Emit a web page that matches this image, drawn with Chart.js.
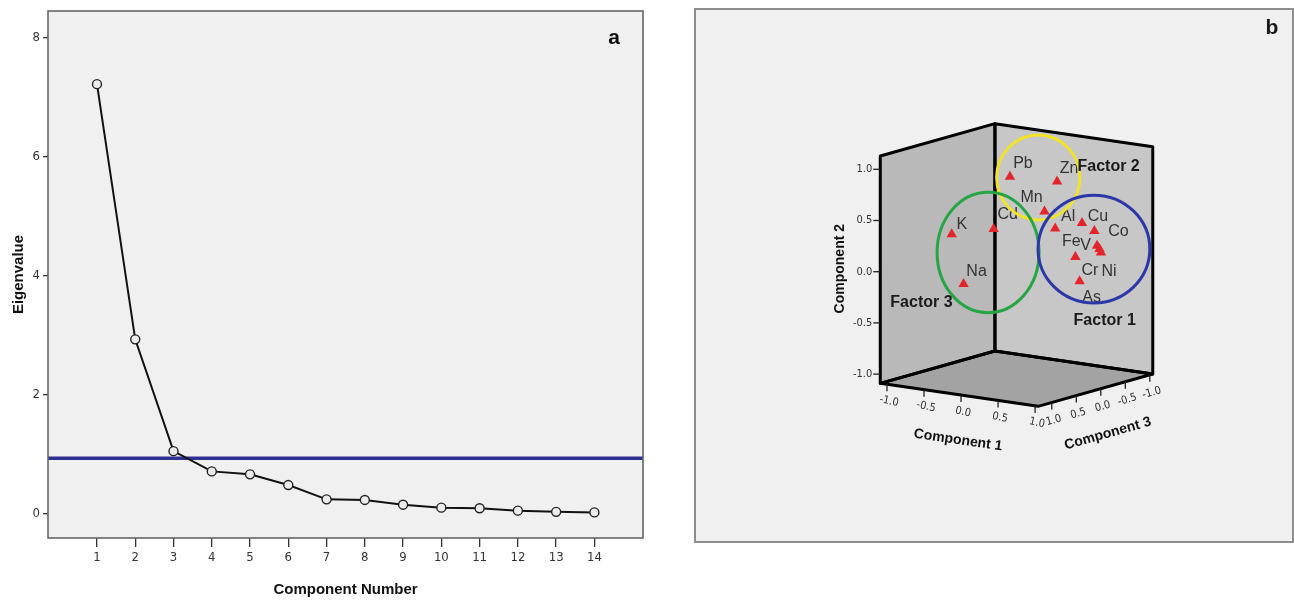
<!DOCTYPE html>
<html>
<head>
<meta charset="utf-8">
<script src="https://cdn.jsdelivr.net/npm/chart.js@4.4.1/dist/chart.umd.min.js"></script>
<style>
  body { margin: 0; width: 1294px; height: 600px; overflow: hidden; background: #fff; position: relative; }
  #scree { position: absolute; left: 0; top: 0; }
  #panelB { position: absolute; left: 694px; top: 8px; width: 600px; height: 535px; box-sizing: border-box;
            border: 2px solid #8e8e8e; background: #f1f0f1; }
  #loadings { position: absolute; left: 690px; top: 0; }
</style>
</head>
<body>
<canvas id="scree" width="680" height="600"></canvas>
<div id="panelB"></div>
<canvas id="loadings" width="604" height="600"></canvas>
<script>
// --- data: scree plot (a) ---
const components = [1, 2, 3, 4, 5, 6, 7, 8, 9, 10, 11, 12, 13, 14];
const eigenvalues = [7.22, 2.93, 1.05, 0.71, 0.66, 0.48, 0.24, 0.23, 0.15, 0.10, 0.09, 0.05, 0.03, 0.02];
const cutoff = 0.93;
const eigenTicks = [0, 2, 4, 6, 8];

// --- data: component plot in rotated space (b) ---
const elements = ['Pb', 'Zn', 'Mn', 'Cd', 'K', 'Na', 'Al', 'Cu', 'Co', 'V', 'Cr', 'Ni', 'Fe', 'As'];
const comp1 = [-0.12, 0.45, 0.28, -0.01, -0.41, -0.25, 0.49, 0.72, 0.92, 0.89, 0.89, 0.91, 0.73, 0.82];
const comp2 = [0.87, 0.87, 0.56, 0.44, 0.38, -0.09, 0.43, 0.48, 0.43, 0.27, 0.23, 0.20, 0.17, -0.05];
const comp3 = [0.10, 0.00, 0.00, 0.60, 0.85, 0.85, 0.10, -0.10, -0.05, -0.15, -0.20, -0.20, 0.05, 0.10];
const loadingTicks = [-1.0, -0.5, 0.0, 0.5, 1.0];

const FONT = '"Liberation Sans", Arial, sans-serif';
const NARROW = '"Liberation Sans Narrow", "DejaVu Sans Condensed", "Liberation Sans", sans-serif';

// ================= PANEL A =================
const X_MIN = -0.28, X_MAX = 15.27, Y_MIN = -0.41, Y_MAX = 8.45;

const screeFrame = {
  id: 'screeFrame',
  beforeDraw(chart) {
    const { ctx, chartArea: a } = chart;
    ctx.save();
    ctx.fillStyle = '#f0f0f0';
    ctx.fillRect(a.left, a.top, a.right - a.left, a.bottom - a.top);
    ctx.restore();
  },
  afterDraw(chart) {
    const { ctx, chartArea: a } = chart;
    ctx.save();
    ctx.strokeStyle = '#666';
    ctx.lineWidth = 1.6;
    ctx.strokeRect(a.left, a.top, a.right - a.left, a.bottom - a.top);
    ctx.fillStyle = '#111';
    ctx.font = 'bold 21px ' + FONT;
    ctx.textAlign = 'center';
    ctx.textBaseline = 'middle';
    ctx.fillText('a', a.right - 29, a.top + 27);
    ctx.restore();
  }
};

new Chart(document.getElementById('scree'), {
  type: 'line',
  data: {
    datasets: [
      {
        data: components.map((c, i) => ({ x: c, y: eigenvalues[i] })),
        borderColor: '#111', borderWidth: 2,
        pointRadius: 4.5, pointBorderWidth: 1.4,
        pointBorderColor: '#222', pointBackgroundColor: '#ececec',
        order: 0
      },
      {
        data: [{ x: X_MIN, y: cutoff }, { x: X_MAX, y: cutoff }],
        borderColor: '#2e3192', borderWidth: 3.5, pointRadius: 0,
        order: 1
      }
    ]
  },
  options: {
    responsive: false,
    animation: false,
    layout: { padding: { top: 11, right: 37, left: 0, bottom: 0 } },
    plugins: { legend: { display: false }, tooltip: { enabled: false } },
    scales: {
      x: {
        type: 'linear', min: X_MIN, max: X_MAX,
        afterFit: s => { s.height = 62; },
        afterBuildTicks: s => { s.ticks = components.map(v => ({ value: v })); },
        grid: { drawOnChartArea: false, color: '#333', tickLength: 9, lineWidth: 1.3 },
        border: { display: false },
        ticks: { color: '#333', font: { family: NARROW, size: 13 }, padding: 3, autoSkip: false, maxRotation: 0 },
        title: { display: true, text: 'Component Number', color: '#111',
                 font: { family: FONT, size: 15, weight: 'bold' }, padding: { top: 0, bottom: 1 } }
      },
      y: {
        type: 'linear', min: Y_MIN, max: Y_MAX,
        afterFit: s => { s.width = 48; },
        afterBuildTicks: s => { s.ticks = eigenTicks.map(v => ({ value: v })); },
        grid: { drawOnChartArea: false, color: '#333', tickLength: 5, lineWidth: 1.3 },
        border: { display: false },
        ticks: { color: '#333', font: { family: NARROW, size: 13 }, padding: 3 },
        title: { display: true, text: 'Eigenvalue', color: '#111',
                 font: { family: FONT, size: 15, weight: 'bold' }, padding: { top: 9.5, bottom: 0 } }
      }
    }
  },
  plugins: [screeFrame]
});

// ================= PANEL B =================
// pixels per unit loading along each component (x right, y down)
const E1 = [75.59, 11.03], E2 = [0, -104.5], E3 = [-50.0, 14.10];
const B1 = [-1.09, 1.04], B2 = [-1.09, 1.13], B3 = [-1.06, 1.28];   // box extent

function proj(c1, c2, c3) {
  return {
    x: E1[0] * c1 + E2[0] * c2 + E3[0] * c3,
    y: -(E1[1] * c1 + E2[1] * c2 + E3[1] * c3)
  };
}

// label placement around each marker, in px
const labelOffsets = {
  Pb: [13, -13], Zn: [12, -13], Mn: [-13, -13.5], Cd: [14, -14], K: [10, -10], Na: [13, -12],
  Al: [13, -12], Cu: [16, -6], Co: [24, 1], V: [-11.5, 0], Cr: [-9.5, 21.5], Ni: [8, 19.5],
  Fe: [-4, -15.5], As: [12, 16]
};

const circles = [
  { x: 14.8, y: 90.1, rx: 42.5, ry: 43.3, color: '#f0e32c' },
  { x: -36.4, y: 13.6, rx: 52, ry: 61.5, color: '#27a544' },
  { x: 71.6, y: 17.1, rx: 57, ry: 55, color: '#2c37a8' }
];
const factorLabels = [
  { text: 'Factor 2', x: 86.6, y: 101.6 },
  { text: 'Factor 3', x: -104.4, y: -37.9 },
  { text: 'Factor 1', x: 82.6, y: -56.4 }
];

function toPx(chart, c1, c2, c3) {
  const p = proj(c1, c2, c3);
  return [chart.scales.x.getPixelForValue(p.x), chart.scales.y.getPixelForValue(p.y)];
}

const box3d = {
  id: 'box3d',
  beforeDatasetsDraw(chart) {
    const ctx = chart.ctx;
    const P = (a, b, c) => toPx(chart, a, b, c);
    const faces = [
      { pts: [P(B1[0], B2[0], B3[0]), P(B1[1], B2[0], B3[0]), P(B1[1], B2[0], B3[1]), P(B1[0], B2[0], B3[1])], fill: '#a3a3a3' },
      { pts: [P(B1[0], B2[0], B3[0]), P(B1[0], B2[1], B3[0]), P(B1[0], B2[1], B3[1]), P(B1[0], B2[0], B3[1])], fill: '#b9b9b9' },
      { pts: [P(B1[0], B2[0], B3[0]), P(B1[1], B2[0], B3[0]), P(B1[1], B2[1], B3[0]), P(B1[0], B2[1], B3[0])], fill: '#c7c7c7' }
    ];
    ctx.save();
    faces.forEach(f => {
      ctx.beginPath();
      f.pts.forEach((p, i) => i ? ctx.lineTo(p[0], p[1]) : ctx.moveTo(p[0], p[1]));
      ctx.closePath();
      ctx.fillStyle = f.fill;
      ctx.fill();
    });
    ctx.strokeStyle = '#000';
    ctx.lineWidth = 3;
    ctx.lineJoin = 'round';
    faces.forEach(f => {
      ctx.beginPath();
      f.pts.forEach((p, i) => i ? ctx.lineTo(p[0], p[1]) : ctx.moveTo(p[0], p[1]));
      ctx.closePath();
      ctx.stroke();
    });

    // ticks
    const fmt = v => v.toFixed(1);
    ctx.lineWidth = 1.3;
    ctx.strokeStyle = '#222';
    ctx.fillStyle = '#333';
    ctx.font = '11px ' + NARROW;

    // component 2 (vertical, left edge)
    ctx.textAlign = 'right';
    ctx.textBaseline = 'middle';
    loadingTicks.forEach(t => {
      const [x, y] = P(B1[0], t, B3[1]);
      ctx.beginPath(); ctx.moveTo(x, y); ctx.lineTo(x - 7, y); ctx.stroke();
      ctx.fillText(fmt(t), x - 8, y);
    });

    const a1 = Math.atan2(E1[1], E1[0]);
    const a3 = Math.atan2(-E3[1], -E3[0]);
    ctx.textAlign = 'center';
    loadingTicks.forEach(t => {
      const [x, y] = P(t, B2[0], B3[1]);
      ctx.beginPath(); ctx.moveTo(x, y); ctx.lineTo(x, y + 7); ctx.stroke();
      ctx.save(); ctx.translate(x + 2, y + 17); ctx.rotate(a1 + 0.06); ctx.fillText(fmt(t), 0, 0); ctx.restore();
    });
    loadingTicks.forEach(t => {
      const [x, y] = P(B1[1], B2[0], t);
      ctx.beginPath(); ctx.moveTo(x, y); ctx.lineTo(x, y + 7); ctx.stroke();
      ctx.save(); ctx.translate(x + 2, y + 18); ctx.rotate(a3); ctx.fillText(fmt(t), 0, 0); ctx.restore();
    });

    // axis titles
    ctx.fillStyle = '#111';
    ctx.font = 'bold 14px ' + FONT;
    let [x, y] = P(0, B2[0], B3[1]);
    ctx.save(); ctx.translate(x - 3, y + 45); ctx.rotate(a1); ctx.fillText('Component 1', 0, 0); ctx.restore();
    [x, y] = P(B1[1], B2[0], 0);
    ctx.save(); ctx.translate(x + 7, y + 45); ctx.rotate(a3); ctx.fillText('Component 3', 0, 0); ctx.restore();
    [x, y] = P(B1[0], 0, B3[1]);
    ctx.save(); ctx.translate(x - 40, y - 3); ctx.rotate(-Math.PI / 2); ctx.fillText('Component 2', 0, 0); ctx.restore();
    ctx.restore();
  },
  afterDatasetsDraw(chart) {
    const ctx = chart.ctx;
    const meta = chart.getDatasetMeta(0);
    const xs = chart.scales.x, ys = chart.scales.y;
    ctx.save();
    ctx.font = '16px ' + FONT;
    ctx.fillStyle = '#333';
    ctx.textAlign = 'center';
    ctx.textBaseline = 'middle';
    meta.data.forEach((pt, i) => {
      const off = labelOffsets[elements[i]];
      ctx.fillText(elements[i], pt.x + off[0], pt.y + off[1]);
    });

    ctx.lineWidth = 3;
    circles.forEach(c => {
      const cx = xs.getPixelForValue(c.x), cy = ys.getPixelForValue(c.y);
      const rx = Math.abs(xs.getPixelForValue(c.x + c.rx) - cx);
      const ry = Math.abs(ys.getPixelForValue(c.y + c.ry) - cy);
      ctx.strokeStyle = c.color;
      ctx.beginPath();
      ctx.ellipse(cx, cy, rx, ry, 0, 0, Math.PI * 2);
      ctx.stroke();
    });

    ctx.fillStyle = '#1a1a1a';
    ctx.font = 'bold 16px ' + FONT;
    factorLabels.forEach(f => {
      ctx.fillText(f.text, xs.getPixelForValue(f.x), ys.getPixelForValue(f.y));
    });

    ctx.font = 'bold 21px ' + FONT;
    ctx.fillText('b', chart.width - 22, 28);
    ctx.restore();
  }
};

new Chart(document.getElementById('loadings'), {
  type: 'scatter',
  data: {
    datasets: [{
      data: elements.map((e, i) => proj(comp1[i], comp2[i], comp3[i])),
      pointStyle: 'triangle',
      pointRadius: 6,
      pointBorderWidth: 0,
      backgroundColor: '#e2252b',
      borderColor: '#e2252b'
    }]
  },
  options: {
    responsive: false,
    animation: false,
    layout: { padding: 0 },
    plugins: { legend: { display: false }, tooltip: { enabled: false } },
    scales: {
      x: { type: 'linear', display: false, min: -334.4, max: 269.6 },
      y: { type: 'linear', display: false, min: -334.9, max: 265.1 }
    }
  },
  plugins: [box3d]
});
</script>
</body>
</html>
